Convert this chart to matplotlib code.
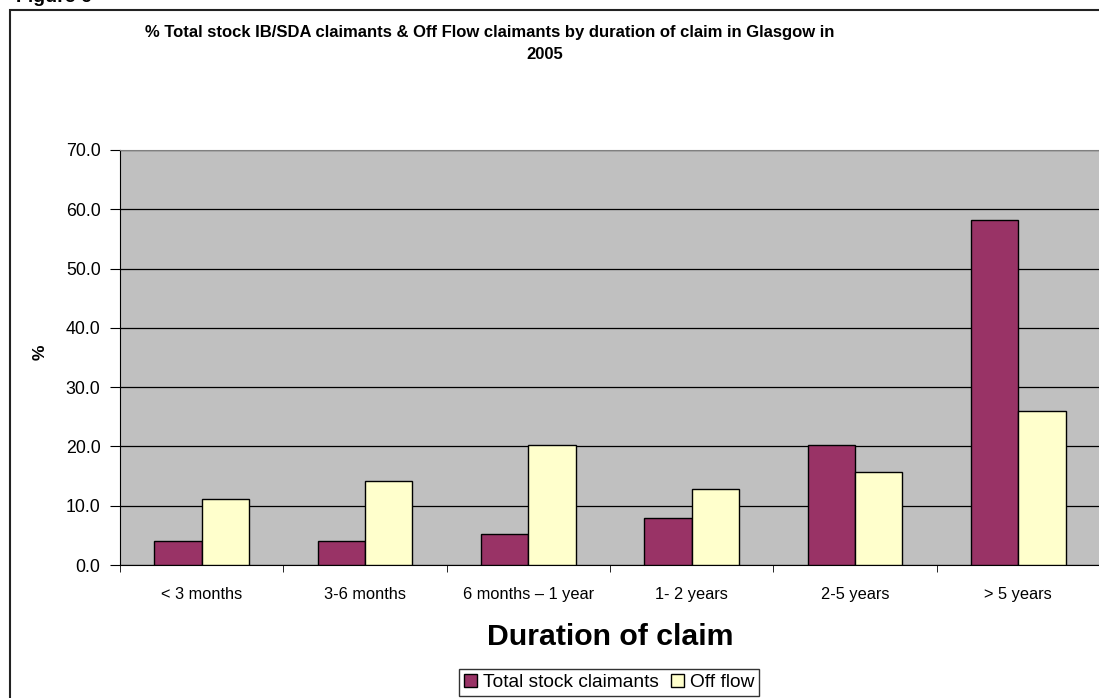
import matplotlib
matplotlib.use("Agg")
import matplotlib.pyplot as plt
import numpy as np
from matplotlib.patches import Rectangle

plt.rcParams['font.family'] = ['Liberation Sans', 'DejaVu Sans']

categories = ['< 3 months', '3-6 months', '6 months \u2013 1 year', '1- 2 years', '2-5 years', '> 5 years']
total_stock = [4.1, 4.0, 5.2, 7.9, 20.3, 58.2]
off_flow = [11.1, 14.1, 20.3, 12.9, 15.7, 26.0]
series_names = ['Total stock claimants', 'Off flow']
yticks = [0, 10, 20, 30, 40, 50, 60, 70]

W, H = 1099, 698
fig = plt.figure(figsize=(W / 100, H / 100), dpi=100)

# outer chart border (cut off right and bottom)
fig.patches.append(Rectangle((10 / W, -0.1), 1.2, 1 - 10 / H + 0.1, transform=fig.transFigure,
                             fill=False, edgecolor='#222222', linewidth=1.5))
# caption above the chart, mostly cut off by the top edge as in the source
fig.text(16 / W, 1 - 2 / H, 'Figure 6', fontsize=14, fontweight='bold', va='baseline', ha='left')

left, right, bottom, top = 120, 1100, 565, 150
ax = fig.add_axes([left / W, 1 - bottom / H, (right - left) / W, (bottom - top) / H])
ax.set_facecolor('#C0C0C0')

x = np.arange(len(categories))
bw = 0.29
ax.bar(x - bw / 2, total_stock, bw, color='#993366', edgecolor='black', linewidth=1, zorder=3,
       label=series_names[0])
ax.bar(x + bw / 2, off_flow, bw, color='#FFFFCC', edgecolor='black', linewidth=1, zorder=3,
       label=series_names[1])

ax.set_xlim(-0.5, len(categories) - 0.5)
ax.set_ylim(0, 70)
ax.set_yticks(yticks)
ax.set_yticklabels(['%.1f' % v for v in yticks], fontsize=12.8)
ax.yaxis.grid(True, color='black', linewidth=0.9, zorder=1)
ax.set_axisbelow(True)

ax.set_xticks(x)
ax.set_xticklabels(categories, fontsize=11.8)
ax.set_xticks(np.arange(-0.5, len(categories)), minor=True)
ax.tick_params(axis='x', which='major', length=0, pad=16)
ax.tick_params(axis='x', which='minor', length=5, direction='out', color='black')
ax.tick_params(axis='y', length=7, direction='out', color='black', pad=7)

for s in ['top', 'right']:
    ax.spines[s].set_color('#808080')
ax.spines['left'].set_color('black')
ax.spines['bottom'].set_color('black')

fig.text(490 / W, 1 - 36.7 / H,
         '% Total stock IB/SDA claimants & Off Flow claimants by duration of claim in Glasgow in',
         fontsize=12, fontweight='bold', ha='center', va='baseline')
fig.text(545 / W, 1 - 59.3 / H, '2005', fontsize=12, fontweight='bold', ha='center', va='baseline')

fig.text(40 / W, 1 - 352 / H, '%', fontsize=12.5, fontweight='bold', rotation=90, ha='center',
         va='center')
fig.text(610 / W, 1 - 645 / H, 'Duration of claim', fontsize=21.8, fontweight='bold', ha='center',
         va='baseline')

leg = fig.legend(loc='upper center', bbox_to_anchor=(609 / W, 1 - 669 / H), ncol=2, fontsize=13.8,
                 frameon=True, fancybox=False, handlelength=0.7, handleheight=0.7, handletextpad=0.3,
                 columnspacing=0.6, borderpad=0.25, borderaxespad=0)
leg.get_frame().set_edgecolor('black')
leg.get_frame().set_linewidth(1)

fig.savefig('out.png', dpi=100)
